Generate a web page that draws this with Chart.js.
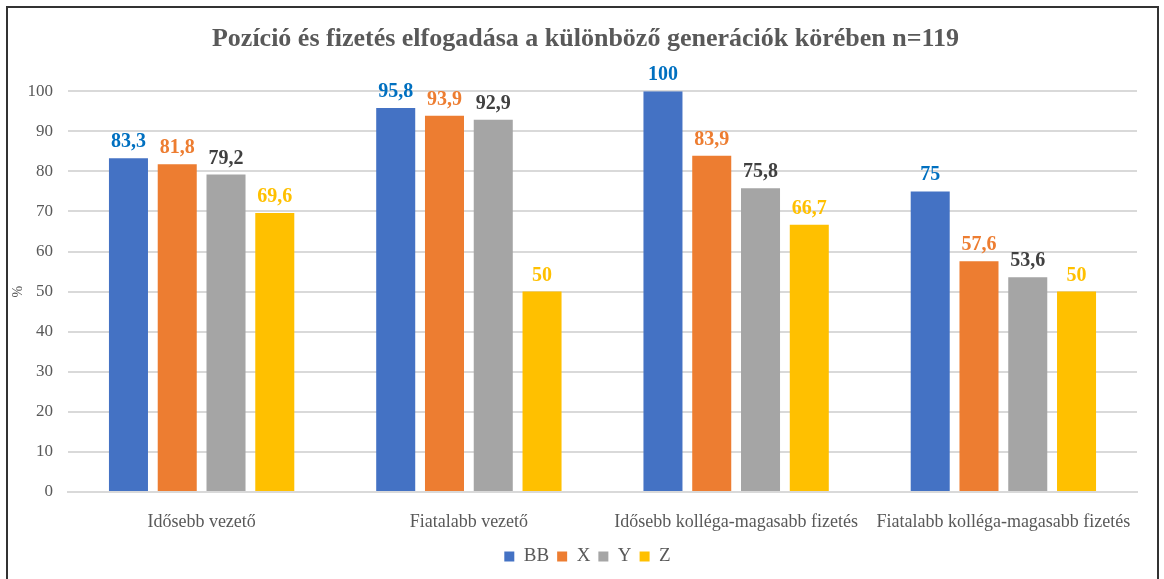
<!DOCTYPE html>
<html>
<head>
<meta charset="utf-8">
<script src="https://cdn.jsdelivr.net/npm/chart.js@4"></script>
<style>
html,body{margin:0;padding:0;background:#fff;}
#wrap{position:relative;width:1164px;height:579px;}
</style>
</head>
<body>
<div id="wrap"><canvas id="c" width="1164" height="579"></canvas></div>
<script>
const categories = ["Idősebb vezető", "Fiatalabb vezető", "Idősebb kolléga-magasabb fizetés", "Fiatalabb kolléga-magasabb fizetés"];
const seriesNames = ["BB", "X", "Y", "Z"];
const valuesBB = [83.3, 95.8, 100, 75];
const valuesX = [81.8, 93.9, 83.9, 57.6];
const valuesY = [79.2, 92.9, 75.8, 53.6];
const valuesZ = [69.6, 50, 66.7, 50];
const yTicks = [0, 10, 20, 30, 40, 50, 60, 70, 80, 90, 100];
const chartTitle = "Pozíció és fizetés elfogadása a különböző generációk körében n=119";

const barColors = ["#4472C4", "#ED7D31", "#A5A5A5", "#FFC000"];
const labelColors = ["#0070C0", "#ED7D31", "#404040", "#FFC000"];
const FONT = "'Liberation Serif', 'Times New Roman', serif";

const frame = {
  id: 'frame',
  afterLayout(chart) {
    if (chart.titleBlock) { chart.titleBlock.left += 12; chart.titleBlock.right += 12; }
    if (chart.legend) { chart.legend.left += 14; chart.legend.right += 14; }
  },
  beforeDraw(chart) {
    const ctx = chart.ctx;
    ctx.save();
    ctx.fillStyle = '#fff';
    ctx.fillRect(0, 0, chart.width, chart.height);
    ctx.strokeStyle = '#333';
    ctx.lineWidth = 2;
    ctx.strokeRect(7, 7, 1151, 600);
    ctx.restore();
  }
};

const valueLabels = {
  id: 'valueLabels',
  afterDatasetsDraw(chart) {
    const ctx = chart.ctx;
    ctx.save();
    ctx.font = "bold 20px " + FONT;
    ctx.textAlign = 'center';
    ctx.textBaseline = 'alphabetic';
    chart.data.datasets.forEach((ds, i) => {
      const meta = chart.getDatasetMeta(i);
      ctx.fillStyle = labelColors[i];
      meta.data.forEach((el, j) => {
        const v = ds.data[j];
        ctx.fillText(String(v).replace('.', ','), el.x, el.y - 11);
      });
    });
    ctx.restore();
  }
};

const seriesData = [valuesBB, valuesX, valuesY, valuesZ];

new Chart(document.getElementById('c'), {
  type: 'bar',
  data: {
    labels: categories,
    datasets: seriesNames.map((n, i) => ({
      label: n,
      data: seriesData[i],
      backgroundColor: barColors[i],
      borderWidth: 0,
      categoryPercentage: 0.73,
      barPercentage: 0.8
    }))
  },
  options: {
    responsive: false,
    animation: false,
    devicePixelRatio: 1,
    layout: { padding: { top: 8, left: 10, right: 27, bottom: 3 } },
    plugins: {
      title: {
        display: true,
        text: chartTitle,
        color: '#595959',
        font: { family: FONT, size: 26, weight: 'bold' },
        padding: { top: 16, bottom: 36 }
      },
      legend: {
        position: 'bottom',
        labels: {
          boxWidth: 10,
          boxHeight: 10,
          color: '#595959',
          font: { family: FONT, size: 19 },
          padding: 8
        }
      },
      tooltip: { enabled: false }
    },
    scales: {
      x: {
        grid: { display: false },
        border: { display: true, color: '#d9d9d9', width: 2 },
        ticks: { color: '#595959', font: { family: FONT, size: 18 }, padding: 11 },
        afterFit(scale) { scale.height = 47; }
      },
      y: {
        min: 0,
        max: 100,
        afterBuildTicks(axis) { axis.ticks = yTicks.map(v => ({ value: v })); },
        grid: { color: '#d9d9d9', lineWidth: 2, drawTicks: false },
        border: { display: false },
        ticks: { color: '#595959', font: { family: FONT, size: 17 }, padding: 15 },
        title: { display: true, text: '%', color: '#595959', font: { family: FONT, size: 14 }, padding: 0 },
        afterFit(scale) { scale.width = 58; }
      }
    }
  },
  plugins: [frame, valueLabels]
});
</script>
</body>
</html>
